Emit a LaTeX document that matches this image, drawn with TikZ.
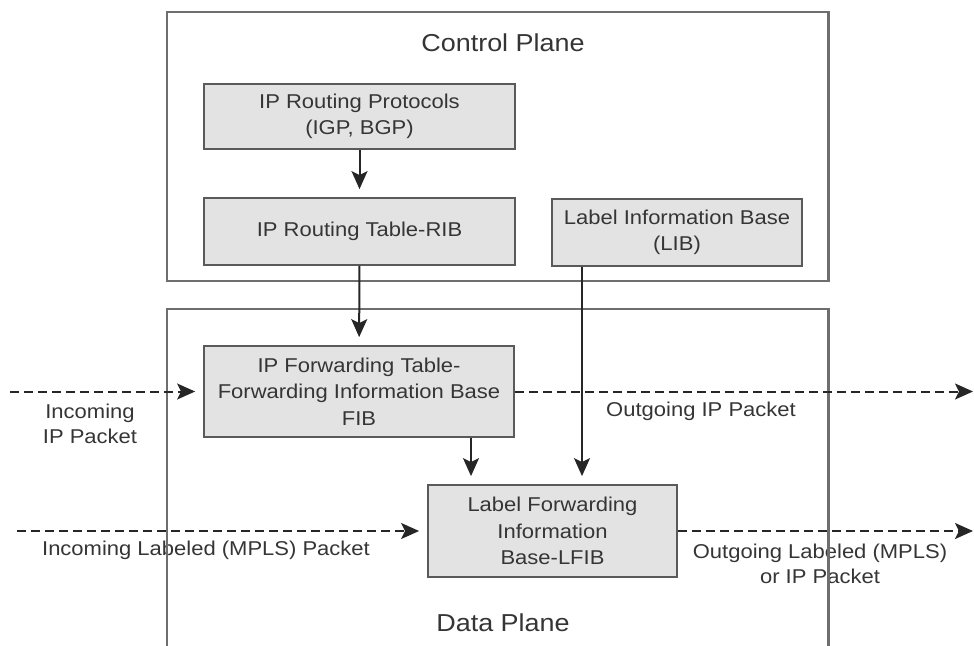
\documentclass[tikz,border=0pt]{standalone}
\usepackage{fontspec}
\setmainfont[FakeStretch=1.1]{Liberation Sans}
\usetikzlibrary{arrows.meta}
\definecolor{boxfill}{HTML}{E3E3E3}
\definecolor{boxline}{HTML}{5A5A5A}
\definecolor{frameline}{HTML}{6E6E6E}
\definecolor{txt}{HTML}{353535}
\tikzset{
  x=1pt, y=-1pt,
  blk/.style={draw=boxline, line width=1.8pt, fill=boxfill, text=txt,
    align=center, inner sep=0pt, font=\fontsize{20}{26.5}\selectfont},
  plane/.style={draw=frameline, line width=2.2pt},
  title/.style={text=txt, font=\fontsize{24.5}{30}\selectfont},
  lbl/.style={text=txt, align=center, font=\fontsize{20}{25}\selectfont},
  flow/.style={draw=black!85, line width=2pt, shorten >=8pt,
    -{Stealth[length=18pt,width=16pt,inset=4pt]}},
  pkt/.style={flow, dash pattern=on 9pt off 5pt},
}
\begin{document}
\begin{tikzpicture}
\useasboundingbox (0,0) rectangle (974,645);

% packet path labels
\node[lbl] (inipl) at (90,424) {Incoming\\IP Packet};
\node[lbl] (outipl) at (701,411) {Outgoing IP Packet};
\node[lbl] (inll) at (206,550) {Incoming Labeled (MPLS) Packet};
\node[lbl] (outll) at (820,563.5) {Outgoing Labeled (MPLS)\\or IP Packet};

% the two planes
\draw[plane] (167,12) rectangle (828.5,281);
\node[title] (cp) at (503,43) {Control Plane};
\draw[plane] (167,646) -- (167,309) -- (828.5,309) -- (828.5,646);
\node[title] (dp) at (503,623) {Data Plane};

% tables
\node[blk, minimum width=311pt, minimum height=65pt] (rp) at (359.5,116.5)
  {IP Routing Protocols\\(IGP, BGP)};
\node[blk, minimum width=311pt, minimum height=67pt] (rib) at (359.5,231.5)
  {IP Routing Table-RIB};
\node[blk, minimum width=250pt, minimum height=67pt] (lib) at (677,232.5)
  {Label Information Base\\(LIB)};
\node[blk, minimum width=310pt, minimum height=91pt] (fib) at (359,391.5)
  {IP Forwarding Table-\\Forwarding Information Base\\FIB};
\node[blk, minimum width=249pt, minimum height=92pt] (lfib) at (552.5,531)
  {Label Forwarding\\Information\\Base-LFIB};

% control-to-data connectors
\coordinate (xf) at (471,0);
\coordinate (xl) at (582,0);
\draw[flow] (rp) -- (rib);
\draw[flow] (rib) -- (fib);
\draw[flow] (lib.south -| xl) -- (lfib.north -| xl);
\draw[flow] (fib.south -| xf) -- (lfib.north -| xf);

% packet paths
\coordinate (inip) at (10,391.5);
\coordinate (outip) at (981,391.5);
\coordinate (inl) at (17,531);
\coordinate (outl) at (981,531);
\draw[pkt] (inip) -- (fib.west);
\draw[pkt] (fib.east) -- (outip);
\draw[pkt] (inl) -- (lfib.west);
\draw[pkt] (lfib.east) -- (outl);
\end{tikzpicture}
\end{document}
